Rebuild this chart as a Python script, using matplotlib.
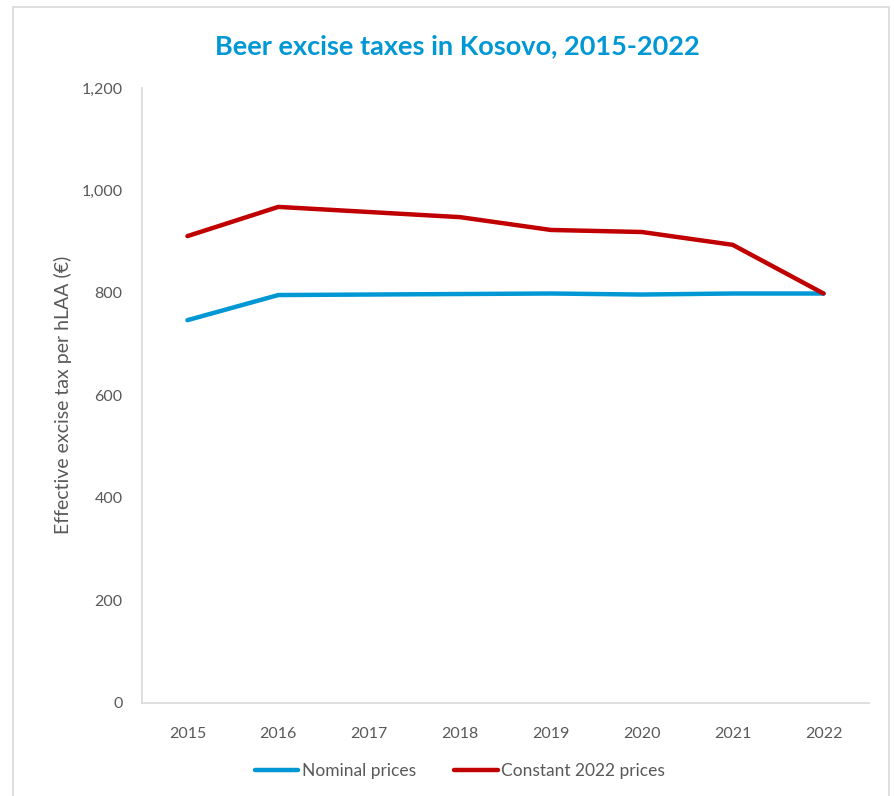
import matplotlib
matplotlib.use("Agg")
import matplotlib.pyplot as plt
from matplotlib.patches import Rectangle

# data
years = ["2015", "2016", "2017", "2018", "2019", "2020", "2021", "2022"]
nominal = [747, 796, 797, 798, 799, 797, 799, 799]
constant_2022 = [911, 968, 958, 948, 923, 919, 894, 799]
y_ticks = [0, 200, 400, 600, 800, 1000, 1200]
y_tick_labels = ["0", "200", "400", "600", "800", "1,000", "1,200"]

plt.rcParams["font.family"] = ["Lato", "DejaVu Sans"]

fig = plt.figure(figsize=(8.95, 7.96), dpi=100)
ax = fig.add_axes([142 / 895, 1 - 703 / 796, (869 - 142) / 895, (703 - 88) / 796])

# chart border
fig.patches.append(Rectangle((13 / 895, -0.05), (889 - 13) / 895, 1.05 - 7 / 796,
                             transform=fig.transFigure, fill=False,
                             edgecolor="#D9D9D9", linewidth=1.2))

x = range(len(years))
ax.plot(x, nominal, color="#0098D4", linewidth=3.2, solid_capstyle="round",
        label="Nominal prices")
ax.plot(x, constant_2022, color="#C00000", linewidth=3.2, solid_capstyle="round",
        label="Constant 2022 prices")

ax.set_xlim(-0.5, len(years) - 0.5)
ax.set_ylim(0, 1200)
ax.set_xticks(list(x))
ax.set_xticklabels(years)
ax.set_yticks(y_ticks)
ax.set_yticklabels(y_tick_labels)
ax.tick_params(length=0, labelsize=11.5, labelcolor="#595959")
ax.tick_params(axis="x", pad=17)
ax.tick_params(axis="y", pad=14)

for side in ["top", "right"]:
    ax.spines[side].set_visible(False)
for side in ["left", "bottom"]:
    ax.spines[side].set_color("#D9D9D9")
    ax.spines[side].set_linewidth(1.2)

ax.set_ylabel("Effective excise tax per hLAA (€)", fontsize=14, color="#595959")
ax.yaxis.set_label_coords(72 / 895, 1 - 395 / 796, transform=fig.transFigure)

fig.text(457 / 895, 1 - 46 / 796, "Beer excise taxes in Kosovo, 2015-2022",
         ha="center", va="center", fontsize=19.5, fontweight="bold", color="#0098D4")

fig.legend(loc="center", bbox_to_anchor=(460 / 895, 1 - 771 / 796), ncol=2,
           frameon=False, fontsize=12.5, handlelength=2.5, handletextpad=0.2,
           columnspacing=2.2, labelcolor="#595959")

fig.savefig("out.png", dpi=100)
